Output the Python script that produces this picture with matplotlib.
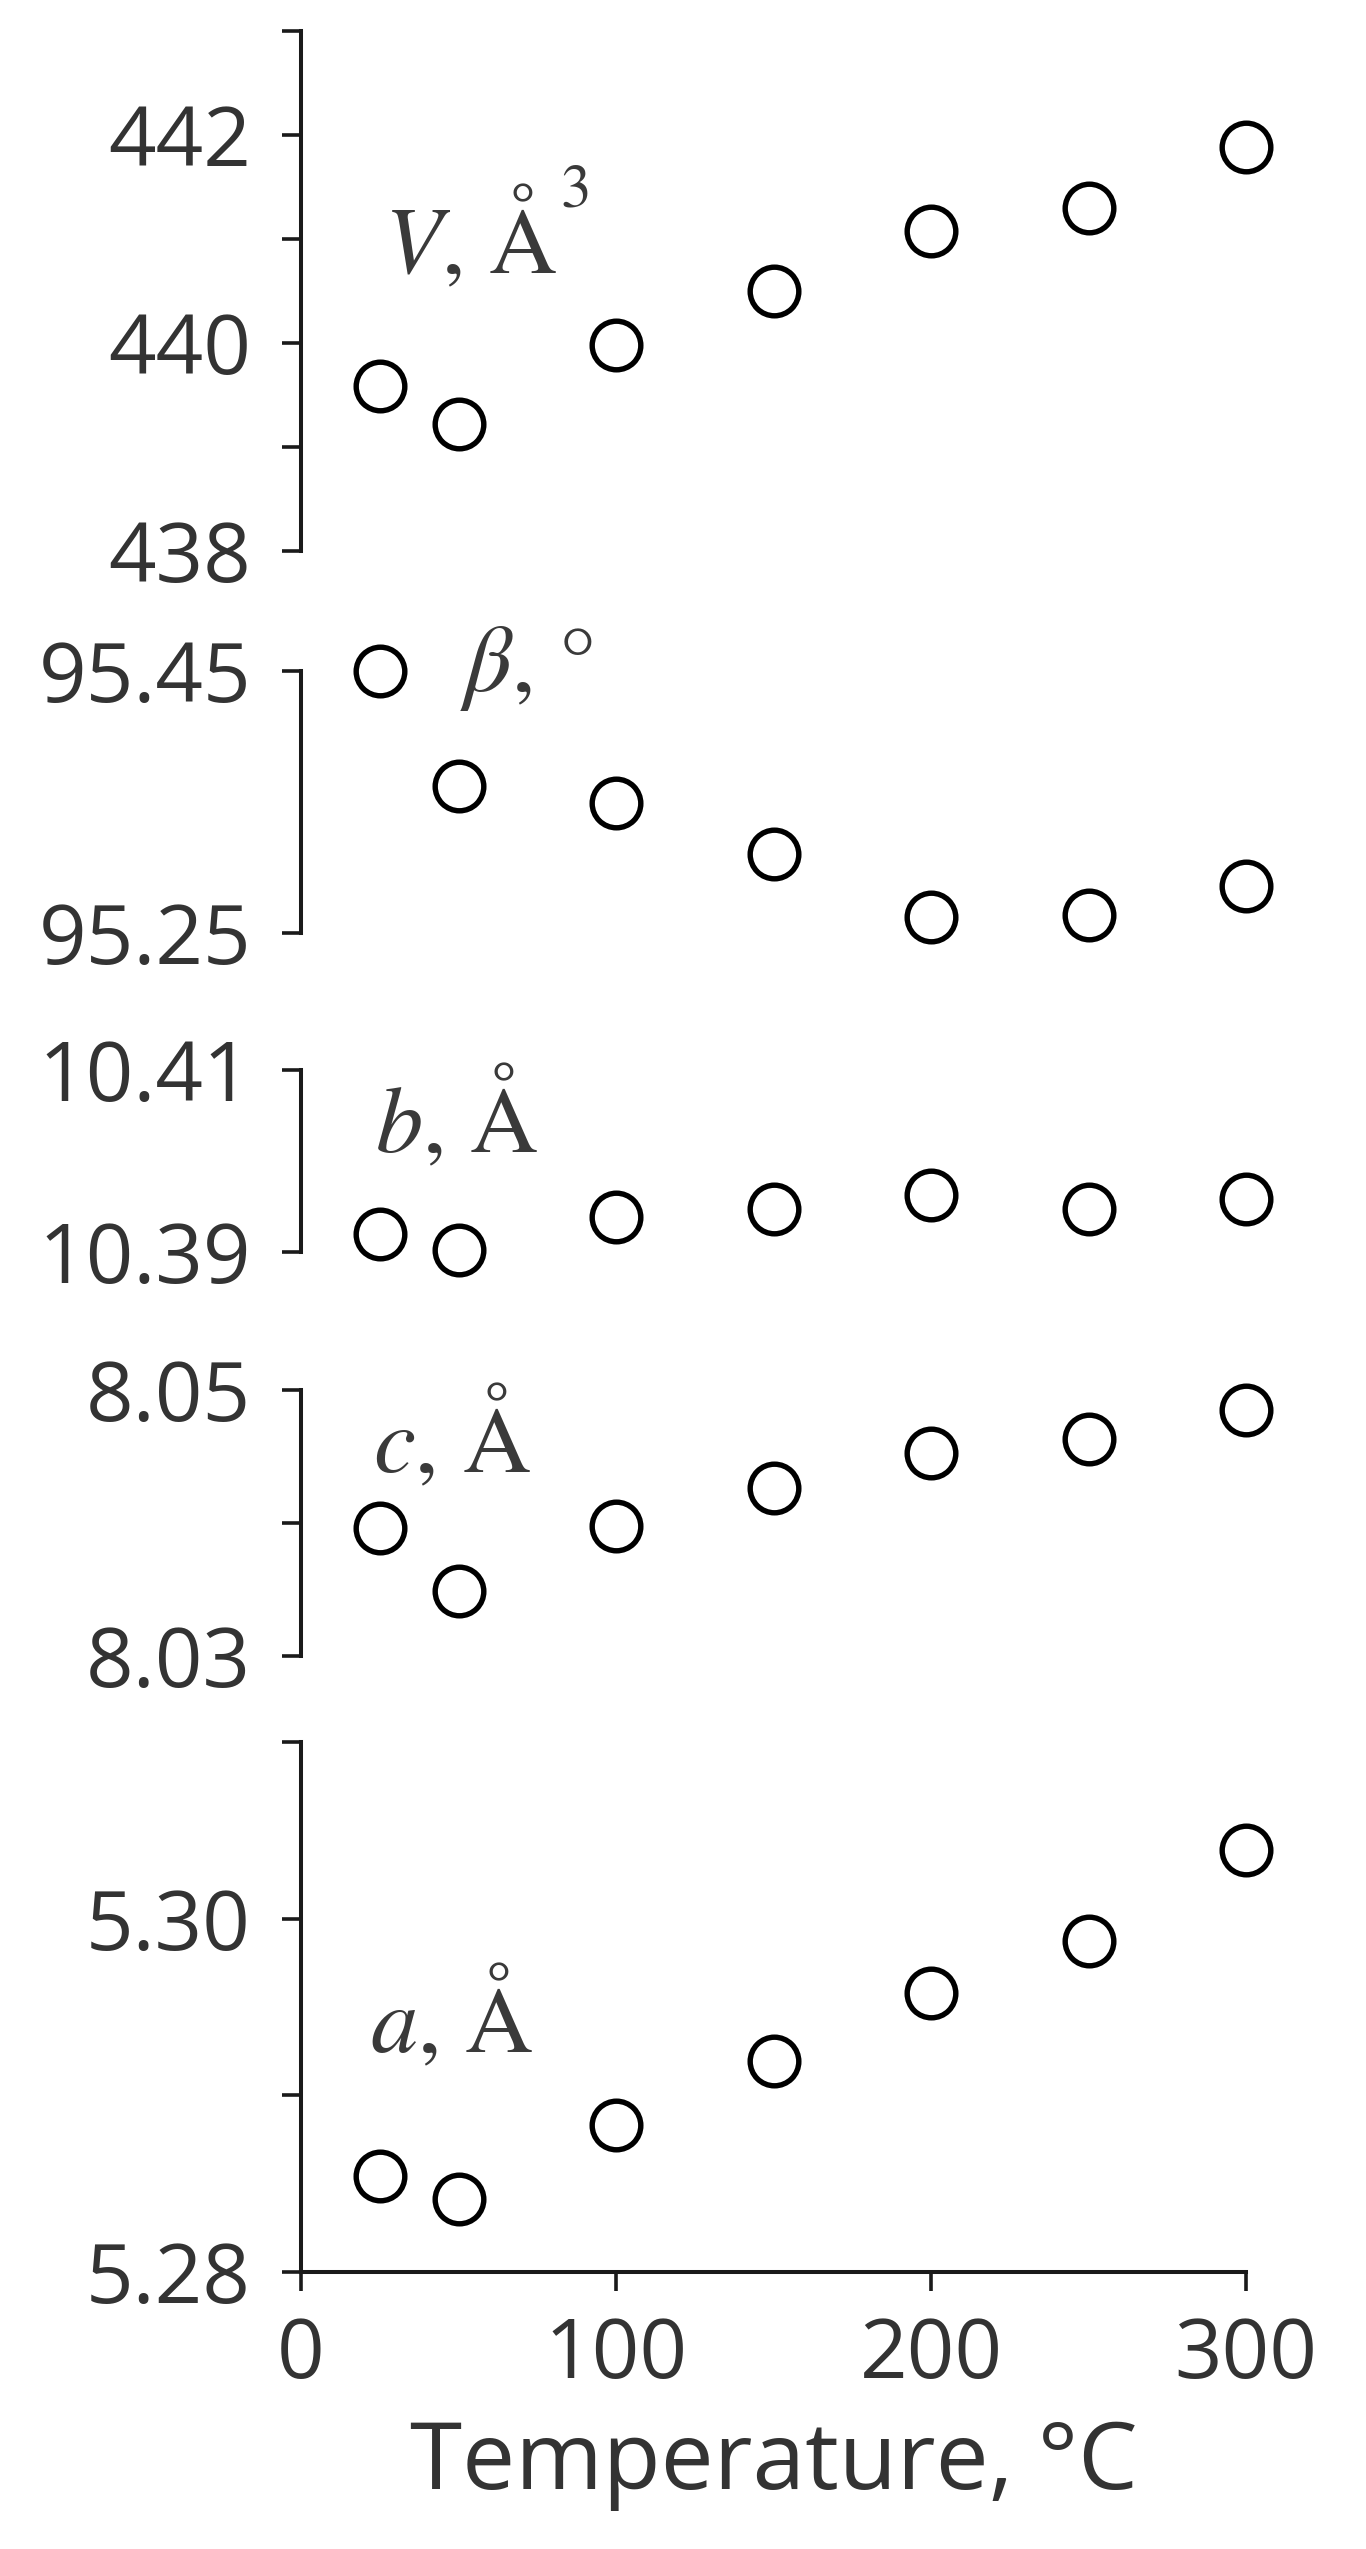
import matplotlib
matplotlib.use("Agg")
import matplotlib.pyplot as plt

# ---------------- data ----------------
temps = [25, 50, 100, 150, 200, 250, 300]
V_vals = [439.59, 439.22, 439.98, 440.50, 441.08, 441.30, 441.88]
beta_vals = [95.450, 95.3625, 95.349, 95.310, 95.2625, 95.264, 95.286]
b_vals = [10.3920, 10.3902, 10.3938, 10.3947, 10.3963, 10.3947, 10.3958]
c_vals = [8.0396, 8.0349, 8.0398, 8.0426, 8.0453, 8.0463, 8.0485]
a_vals = [5.2854, 5.2841, 5.2883, 5.2919, 5.2958, 5.2987, 5.3039]

V_ticks = [438, 439, 440, 441, 442, 443]
V_ticklabels = ["438", "", "440", "", "442", ""]
beta_ticks = [95.25, 95.45]
beta_ticklabels = ["95.25", "95.45"]
b_ticks = [10.39, 10.41]
b_ticklabels = ["10.39", "10.41"]
c_ticks = [8.03, 8.04, 8.05]
c_ticklabels = ["8.03", "", "8.05"]
a_ticks = [5.28, 5.29, 5.30, 5.31]
a_ticklabels = ["5.28", "", "5.30", ""]
x_ticks = [0, 100, 200, 300]
x_ticklabels = ["0", "100", "200", "300"]

panel_labels = [r"$V$, Å", r"$\beta$, °", r"$b$, Å", r"$c$, Å", r"$a$, Å"]
V_superscript = "3"
x_label = "Temperature, °C"

# ---------------- figure ----------------
plt.rcParams["mathtext.fontset"] = "stix"
W, H = 1366, 2549
fig = plt.figure(figsize=(W / 100, H / 100), dpi=100)
fig.patch.set_facecolor("white")

x_left_px, x_right_px = 301, 1246
# (top_px, bottom_px) for each panel
panel_px = [(31, 551), (671, 933), (1070, 1252), (1390, 1656), (1742, 2271.5)]
panels = [
    (V_vals, V_ticks, V_ticklabels, (26.5, 440.67)),
    (beta_vals, beta_ticks, beta_ticklabels, (50.5, 95.435)),
    (b_vals, b_ticks, b_ticklabels, (23.5, 10.401)),
    (c_vals, c_ticks, c_ticklabels, (22.9, 8.0438)),
    (a_vals, a_ticks, a_ticklabels, (21.9, 5.2924)),
]

tick_color = "#333333"
line_color = "#1a1a1a"
label_color = "#3a3a3a"
tick_font = "Open Sans"

for i, ((vals, ticks, tlabels, lpos), (top, bot)) in enumerate(zip(panels, panel_px)):
    ax = fig.add_axes([x_left_px / W, 1 - bot / H,
                       (x_right_px - x_left_px) / W, (bot - top) / H])
    ax.set_facecolor("none")
    ax.plot(temps, vals, linestyle="none", marker="o", markersize=35,
            markerfacecolor="none", markeredgecolor="black",
            markeredgewidth=3.9, clip_on=False)
    ax.set_xlim(0, 300)
    ax.set_ylim(ticks[0], ticks[-1])
    ax.set_yticks(ticks)
    ax.set_yticklabels(tlabels)
    for s in ["top", "right"]:
        ax.spines[s].set_visible(False)
    ax.spines["left"].set_linewidth(2.9)
    ax.spines["left"].set_color(line_color)
    ax.tick_params(axis="y", direction="out", length=14, width=2.6,
                   color=line_color, pad=22, labelsize=60,
                   labelcolor=tick_color)
    for lab in ax.get_yticklabels():
        lab.set_fontfamily(tick_font)
    last = (i == len(panels) - 1)
    if last:
        ax.spines["bottom"].set_linewidth(2.9)
        ax.spines["bottom"].set_color(line_color)
        ax.set_xticks(x_ticks)
        ax.set_xticklabels(x_ticklabels)
        ax.tick_params(axis="x", direction="out", length=14, width=2.6,
                       color=line_color, pad=18, labelsize=60,
                       labelcolor=tick_color)
        for lab in ax.get_xticklabels():
            lab.set_fontfamily(tick_font)
        ax.set_xlabel(x_label, fontsize=68, fontfamily=tick_font,
                      color=tick_color, labelpad=14)
    else:
        ax.spines["bottom"].set_visible(False)
        ax.set_xticks([])
    ax.text(lpos[0], lpos[1], panel_labels[i], fontsize=68,
            fontfamily="STIXGeneral", color=label_color,
            ha="left", va="baseline")
    if i == 0:
        ax.annotate(V_superscript, xy=lpos, xycoords="data",
                    xytext=(127, 48), textcoords="offset points",
                    fontsize=44, fontfamily="STIXGeneral", color=label_color,
                    ha="left", va="baseline")

fig.savefig("out.png", dpi=100, facecolor="white")
